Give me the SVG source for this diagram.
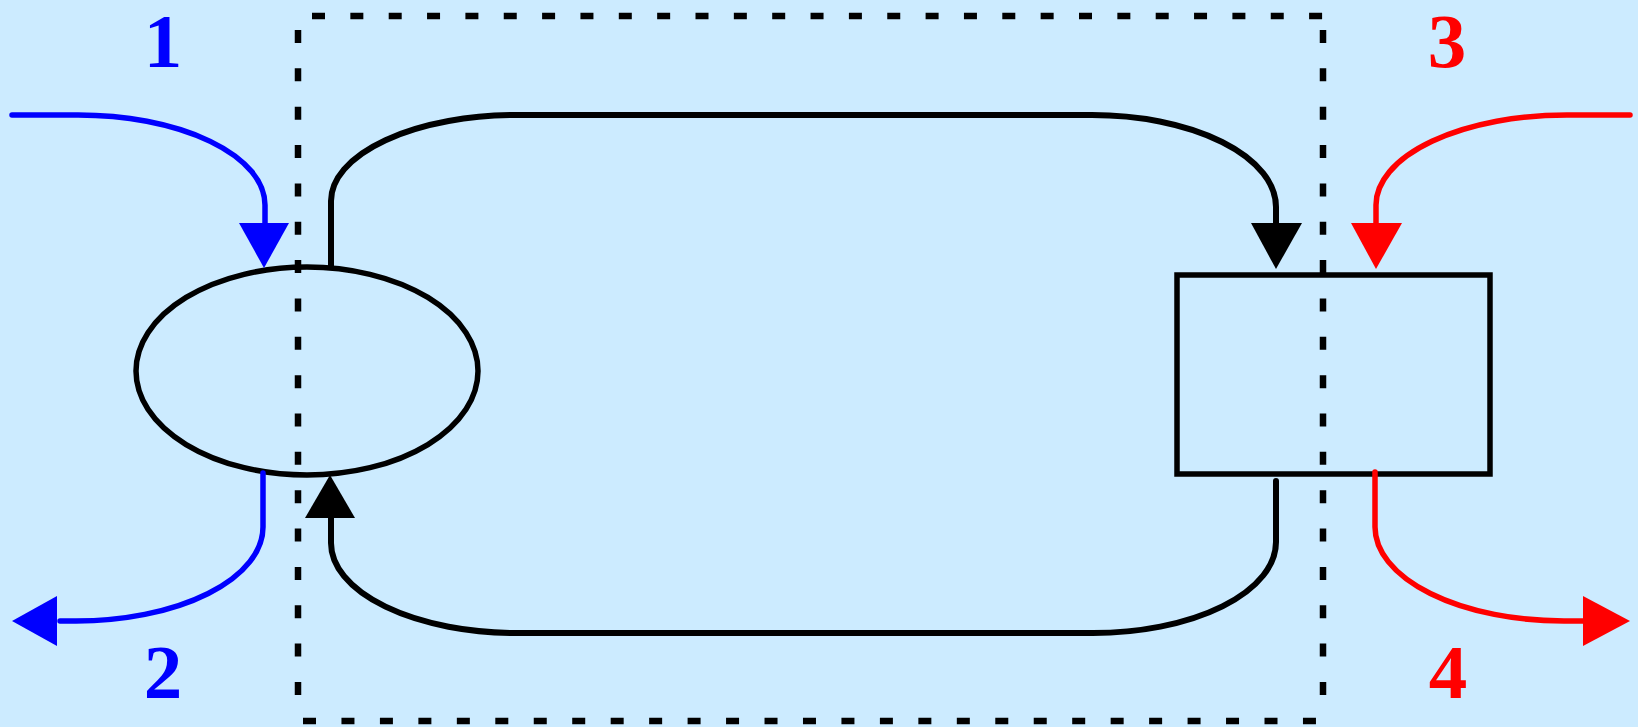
<svg xmlns="http://www.w3.org/2000/svg" width="1638" height="727" viewBox="0 0 1638 727">
<style>
.frame{stroke:#000;stroke-width:6.5;stroke-dasharray:13 25.35;fill:none}
.node{fill:none;stroke:#000;stroke-width:5.5}
.k{fill:none;stroke:#000;stroke-width:6;stroke-linecap:round}
.b{fill:none;stroke:#0000FF;stroke-width:5.5;stroke-linecap:round}
.r{fill:none;stroke:#FF0000;stroke-width:5.5;stroke-linecap:round}
.lbl{font-family:"Liberation Serif",serif;font-weight:bold;font-size:77px;text-anchor:middle}
</style>
<rect width="1638" height="727" fill="#CCEBFF"/>
<g id="boundary">
<line class="frame" x1="312" y1="16" x2="1330" y2="16"/>
<line class="frame" x1="298" y1="30" x2="298" y2="700"/>
<line class="frame" x1="303" y1="721" x2="1316" y2="721" style="stroke-dasharray:13 25.46"/>
<line class="frame" x1="1323" y1="30" x2="1323" y2="700"/>
</g>
<g id="ellipse-node"><ellipse class="node" cx="307" cy="371" rx="171" ry="104"/></g>
<g id="rect-node"><rect class="node" x="1177" y="275" width="313" height="199"/></g>
<g id="connectors">
<path class="b" d="M12 115 H78 A187 90 0 0 1 265 205 V224"/>
<polygon points="239,223 289,223 264,268" fill="#0000FF"/>
<path class="b" d="M263 473 V527 A187 94 0 0 1 76 621 H60"/>
<polygon points="57,596 57,646 12,621" fill="#0000FF"/>
<path class="k" d="M331 267 V201 A186 86 0 0 1 517 115 H1092 A184 92 0 0 1 1276 207 V224"/>
<polygon points="1251,223 1302,223 1276,269" fill="#000"/>
<path class="k" d="M1276 481 V542 A183 91 0 0 1 1093 633 H517 A186 90 0 0 1 331 543 V516"/>
<polygon points="305,518 355,518 330,475" fill="#000"/>
<path class="r" d="M1630 115 H1567 A191 90 0 0 0 1376 205 V224"/>
<polygon points="1351,223 1402,223 1376,269" fill="#FF0000"/>
<path class="r" d="M1375 472 V527 A189 94 0 0 0 1564 621 H1585"/>
<polygon points="1583,596 1583,646 1630,621" fill="#FF0000"/>
</g>
<g id="labels">
<text class="lbl" x="163" y="67" fill="#0000FF">1</text>
<text class="lbl" x="163" y="698" fill="#0000FF">2</text>
<text class="lbl" x="1447" y="67" fill="#FF0000">3</text>
<text class="lbl" x="1448" y="698" fill="#FF0000">4</text>
</g>
</svg>
